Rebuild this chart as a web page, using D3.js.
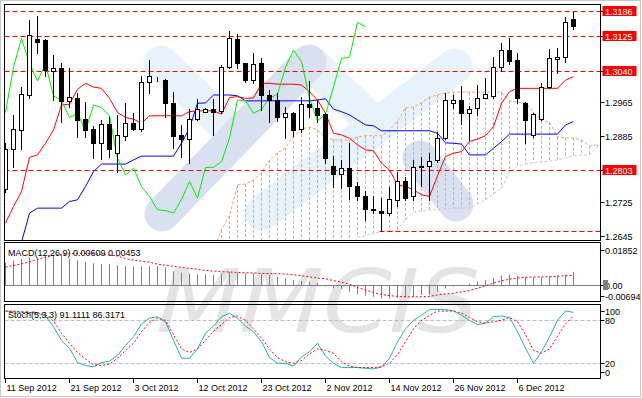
<!DOCTYPE html>
<meta charset="utf-8">
<script src="https://d3js.org/d3.v7.min.js"></script>
<style>
  body { margin: 0; background: #fff; }
  svg { display: block; font-family: "Liberation Sans", Arial, sans-serif; font-size: 9px; }
</style>
<svg id="chart" width="642" height="398"></svg>
<script>

// daily candles, 72 bars
const open = [1.2756,1.2854,1.2898,1.2984,1.3118,1.3114,1.3040,1.3047,1.2968,1.2976,
  1.2924,1.2900,1.2868,1.2914,1.2844,1.2884,1.2916,1.2902,1.3015,1.3021,
  1.3020,1.2964,1.2886,1.2876,1.2926,1.2943,1.2950,1.2944,1.3051,1.3118,
  1.3060,1.3018,1.3059,1.2984,1.2970,1.2930,1.2940,1.2900,1.2960,1.2952,
  1.2936,1.2813,1.2792,1.2808,1.2765,1.2741,1.2709,1.2705,1.2700,1.2730,
  1.2776,1.2741,1.2813,1.2812,1.2826,1.2880,1.2964,1.2970,1.2940,1.2952,
  1.2976,1.2980,1.3051,1.3092,1.3066,1.2964,1.2886,1.2926,1.3003,1.3070,
  1.3075,1.3166];
const high = [1.2869,1.2936,1.3003,1.3164,1.3174,1.3118,1.3080,1.3062,1.3048,1.2988,
  1.2968,1.2910,1.2924,1.2930,1.2936,1.2964,1.2940,1.3030,1.3068,1.3027,
  1.3022,1.2991,1.2912,1.2950,1.2974,1.2952,1.2974,1.3056,1.3138,1.3130,
  1.3062,1.3084,1.3072,1.2996,1.2988,1.2956,1.2942,1.2980,1.3018,1.2972,
  1.2940,1.2837,1.2828,1.2868,1.2776,1.2752,1.2740,1.2736,1.2764,1.2800,
  1.2788,1.2828,1.2836,1.2844,1.2896,1.2988,1.2984,1.3006,1.2958,1.3008,
  1.3024,1.3075,1.3108,1.3122,1.3084,1.2968,1.2940,1.3012,1.3094,1.3096,
  1.3171,1.3184];
const low = [1.2751,1.2812,1.2854,1.2976,1.3084,1.3030,1.2972,1.2920,1.2956,1.2884,
  1.2882,1.2832,1.2830,1.2836,1.2800,1.2876,1.2900,1.2898,1.2990,1.3018,
  1.2930,1.2856,1.2834,1.2821,1.2924,1.2942,1.2888,1.2940,1.3048,1.3048,
  1.3016,1.3012,1.2948,1.2918,1.2922,1.2880,1.2886,1.2896,1.2930,1.2920,
  1.2820,1.2764,1.2760,1.2733,1.2732,1.2684,1.2700,1.2658,1.2696,1.2716,
  1.2732,1.2732,1.2765,1.2732,1.2824,1.2878,1.2952,1.2914,1.2876,1.2936,
  1.2976,1.2978,1.3042,1.3059,1.2964,1.2869,1.2882,1.2924,1.3000,1.3038,
  1.3064,1.3142];
const close = [1.2852,1.2902,1.2986,1.3126,1.3110,1.3042,1.3048,1.2968,1.2978,1.2922,
  1.2898,1.2868,1.2912,1.2854,1.2886,1.2916,1.2902,1.3015,1.3028,1.3022,
  1.2964,1.2884,1.2878,1.2926,1.2950,1.2950,1.2942,1.3051,1.3120,1.3060,
  1.3018,1.3058,1.2982,1.2970,1.2930,1.2940,1.2898,1.2960,1.2954,1.2934,
  1.2832,1.2792,1.2808,1.2764,1.2740,1.2708,1.2706,1.2700,1.2733,1.2776,
  1.2736,1.2810,1.2810,1.2824,1.2880,1.2972,1.2970,1.2940,1.2950,1.2976,
  1.2986,1.3051,1.3092,1.3064,1.2976,1.2922,1.2938,1.3003,1.3072,1.3075,
  1.3159,1.3148];

// Ichimoku lines
const tenkan = [1.2676,1.2716,1.2752,1.2834,1.2840,1.2868,1.2900,1.2960,1.2962,1.2998,
  1.3012,1.3003,1.3000,1.2976,1.2942,1.2930,1.2926,1.2916,1.2934,1.2934,
  1.2934,1.2934,1.2934,1.2944,1.2946,1.2946,1.2946,1.2938,1.2978,1.2980,
  1.2976,1.2977,1.3012,1.3012,1.3010,1.3010,1.3010,1.3008,1.2992,1.2972,
  1.2940,1.2892,1.2888,1.2880,1.2864,1.2852,1.2850,1.2820,1.2804,1.2768,
  1.2764,1.2756,1.2744,1.2740,1.2790,1.2836,1.2844,1.2848,1.2872,1.2878,
  1.2886,1.2908,1.2964,1.2992,1.3000,1.3000,1.3000,1.3000,1.3000,1.3000,
  1.3020,1.3028];
const kijun = [1.2600,1.2610,1.2630,1.2700,1.2712,1.2712,1.2712,1.2712,1.2728,1.2732,
  1.2764,1.2800,1.2818,1.2818,1.2818,1.2818,1.2828,1.2837,1.2837,1.2837,
  1.2837,1.2837,1.2868,1.2904,1.2964,1.2965,1.2984,1.2984,1.2984,1.2982,
  1.2970,1.2970,1.2970,1.2970,1.2970,1.2970,1.2970,1.2970,1.2970,1.2972,
  1.2975,1.2950,1.2944,1.2936,1.2924,1.2912,1.2910,1.2898,1.2898,1.2898,
  1.2898,1.2898,1.2898,1.2898,1.2892,1.2869,1.2868,1.2866,1.2840,1.2840,
  1.2840,1.2856,1.2872,1.2890,1.2890,1.2890,1.2890,1.2890,1.2890,1.2890,
  1.2912,1.2920];
// cloud spans, from bar 26 to bar 74
const spanStart = 26;
const spanA = [1.2611,1.2660,1.2693,1.2768,1.2770,1.2780,1.2797,1.2828,1.2845,1.2857,
  1.2886,1.2902,1.2907,1.2900,1.2883,1.2876,1.2876,1.2876,1.2883,1.2886,
  1.2886,1.2886,1.2900,1.2921,1.2953,1.2955,1.2965,1.2979,1.2984,1.2989,
  1.2991,1.2991,1.2991,1.2991,1.2991,1.2991,1.2991,1.2970,1.2967,1.2965,
  1.2943,1.2922,1.2919,1.2883,1.2881,1.2881,1.2876,1.2861,1.2864];
const spanB = [1.2600,1.2600,1.2600,1.2600,1.2600,1.2600,1.2600,1.2600,1.2600,1.2600,
  1.2600,1.2600,1.2600,1.2600,1.2600,1.2600,1.2600,1.2600,1.2643,1.2645,
  1.2652,1.2655,1.2657,1.2660,1.2684,1.2703,1.2705,1.2708,1.2708,1.2710,
  1.2712,1.2712,1.2712,1.2722,1.2732,1.2746,1.2760,1.2799,1.2813,1.2818,
  1.2821,1.2823,1.2825,1.2828,1.2833,1.2837,1.2840,1.2840,1.2859];
const chikouShift = 26;

// MACD(12,26,9)
const macd = [0.0100,0.0110,0.0117,0.0121,0.0121,0.0129,0.0133,0.0124,0.0118,0.0110,
  0.0104,0.0098,0.0095,0.0095,0.0089,0.0085,0.0083,0.0083,0.0085,0.0086,
  0.0080,0.0063,0.0057,0.0053,0.0050,0.0050,0.0047,0.0055,0.0061,0.0058,
  0.0055,0.0055,0.0051,0.0046,0.0039,0.0032,0.0026,0.0021,0.0018,0.0014,
  -0.0002,-0.0010,-0.0013,-0.0025,-0.0037,-0.0042,-0.0047,-0.0054,-0.0054,-0.0051,
  -0.0051,-0.0050,-0.0039,-0.0037,-0.0025,-0.0010,-0.0003,0.0004,0.0009,0.0019,
  0.0026,0.0034,0.0045,0.0048,0.0045,0.0038,0.0037,0.0037,0.0041,0.0045,
  0.0048,0.00609];
const macdSignal = [0.0082,0.0088,0.0095,0.0104,0.0114,0.0124,0.0132,0.0136,0.0139,0.0140,
  0.0140,0.0139,0.0136,0.0133,0.0129,0.0118,0.0111,0.0107,0.0102,0.0094,
  0.0089,0.0085,0.0080,0.0076,0.0072,0.0067,0.0064,0.0061,0.0060,0.0058,
  0.0057,0.0056,0.0054,0.0053,0.0053,0.0051,0.0048,0.0044,0.0039,0.0034,
  0.0031,0.0023,0.0016,0.0007,-0.0007,-0.0018,-0.0028,-0.0037,-0.0042,-0.0045,
  -0.0047,-0.0047,-0.0047,-0.0045,-0.0039,-0.0035,-0.0032,-0.0026,-0.0020,-0.0010,
  0.0001,0.0012,0.0022,0.0029,0.0034,0.0037,0.0038,0.0039,0.0040,0.0042,
  0.0044,0.00453];

// Stochastic(5,3,3)
const stochMain = [93,92,91,91,90,86,71,52,41,21,17,15,21,23,31,45,57,75,83,85,
  78,52,27,27,40,62,72,85,90,83,72,64,50,28,20,20,16,29,36,48,
  30,20,14,14,14,13,12,15,27,50,68,80,87,95,95,95,93,87,80,74,
  76,85,86,84,64,41,20,36,57,80,93,91.1111];
const stochSignal = [93,93,92,91,90,88,79,62,48,35,26,18,17,19,27,38,48,64,77,83,
  80,60,40,35,40,52,65,74,84,86,80,68,55,40,28,22,20,24,33,40,
  38,34,22,16,14,14,14,15,20,32,50,68,80,87,93,93,93,90,84,78,
  76,78,80,84,78,60,38,34,40,58,75,86.3171];

const tickBars = [0, 8, 16, 24, 32, 40, 48, 56, 64];
const tickLabels = ["11 Sep 2012","21 Sep 2012","3 Oct 2012","12 Oct 2012","23 Oct 2012",
  "2 Nov 2012","14 Nov 2012","26 Nov 2012","6 Dec 2012"];
const priceTicks = [1.3186, 1.3125, 1.3040, 1.2965, 1.2885, 1.2803, 1.2725, 1.2645];
const levelLines = [1.3186, 1.3125, 1.3040, 1.2803];
const supportLevel = 1.2655, supportFrom = 47;
const macdTicks = [0.01852, 0.00, -0.00694];
const macdTickText = ["0.01852", "0.00", "-0.00694"];
const stochTicks = [100, 80, 20, 0];
const stochLevels = [80, 20];

const svg = d3.select("#chart");
const L = 4.5, R = 600.5;
const panels = {
  main: {top: 4.5, bottom: 240.5},
  macd: {top: 242.5, bottom: 301.5},
  stoch: {top: 304.5, bottom: 378.5}
};

const x = d3.scaleLinear().domain([0, 1]).range([5.5, 13.5]);
const y = d3.scaleLinear().domain([1.2645, 1.3186]).range([236, 11]);
const yM = d3.scaleLinear().domain([-0.00694, 0.01852]).range([302, 243]);
const yS = d3.scaleLinear().domain([0, 100]).range([377.6, 306]);
const snap = v => Math.round(v - 0.5) + 0.5;

svg.append("rect").attr("width", 642).attr("height", 398).attr("fill", "#fff");

// clip paths
const defs = svg.append("defs");
Object.entries(panels).forEach(([k, p]) => {
  defs.append("clipPath").attr("id", "clip-" + k)
    .append("rect").attr("x", L).attr("y", p.top).attr("width", R - L).attr("height", p.bottom - p.top);
});

// MMCIS watermark behind the sub windows
svg.append("text")
  .attr("x", 150).attr("y", 332)
  .attr("textLength", 322).attr("lengthAdjust", "spacingAndGlyphs")
  .attr("transform", "skewX(-14) translate(82,0)")
  .style("font-family", "DejaVu Sans, sans-serif")
  .style("font-size", "88px")
  .attr("fill", "#e4e4e4")
  .text("MMCIS");

// ---- main window ----
const gMain = svg.append("g").attr("clip-path", "url(#clip-main)");

// logo bands
const bands = [
  {a: [161, 63], b: [228, 128], c: "#e7f2fb"},
  {a: [312, 64], b: [362, 112], c: "#e7f2fb"},
  {a: [262, 213], b: [455, 66], c: "#e7f2fb"},
  {a: [162, 214], b: [309, 62], c: "#d9e0f0"},
  {a: [420, 158], b: [456, 204], c: "#d9e0f0"}
];
gMain.selectAll("line.band").data(bands).join("line")
  .attr("class", "band")
  .attr("x1", d => d.a[0]).attr("y1", d => d.a[1])
  .attr("x2", d => d.b[0]).attr("y2", d => d.b[1])
  .attr("stroke", d => d.c).attr("stroke-width", 35).attr("stroke-linecap", "round");

// cloud hatch
const spanIdx = d3.range(spanA.length);
gMain.selectAll("line.hatch").data(spanIdx.slice(1)).join("line")
  .attr("class", "hatch")
  .attr("x1", i => x(i + spanStart)).attr("x2", i => x(i + spanStart))
  .attr("y1", i => y(spanA[i])).attr("y2", i => y(spanB[i]))
  .attr("stroke", "#f4a460").attr("stroke-dasharray", "3,2");

const line = (arr, off, ys) => d3.line().x((d, i) => x(i + off)).y(d => ys(d))(arr);

gMain.append("path").attr("d", line(spanA, spanStart, y))
  .attr("fill", "none").attr("stroke", "#f4a460").attr("stroke-dasharray", "3,2");
gMain.append("path").attr("d", line(spanB, spanStart, y))
  .attr("fill", "none").attr("stroke", "#d8bfd8").attr("stroke-dasharray", "3,2");

// horizontal levels
gMain.selectAll("line.level").data(levelLines).join("line")
  .attr("class", "level")
  .attr("x1", L).attr("x2", R)
  .attr("y1", d => snap(y(d))).attr("y2", d => snap(y(d)))
  .attr("stroke", "#ff0000").attr("stroke-dasharray", "5,3");
gMain.append("line")
  .attr("x1", x(supportFrom) - 2).attr("x2", R)
  .attr("y1", snap(y(supportLevel))).attr("y2", snap(y(supportLevel)))
  .attr("stroke", "#ff0000").attr("stroke-dasharray", "5,3");

gMain.append("path").attr("d", line(kijun, 0, y))
  .attr("fill", "none").attr("stroke", "#0000ff");
gMain.append("path").attr("d", line(tenkan, 0, y))
  .attr("fill", "none").attr("stroke", "#ff0000");
gMain.append("path").attr("d", line(close.slice(chikouShift), 0, y))
  .attr("fill", "none").attr("stroke", "#00ee00");

// candles
const bars = d3.range(open.length);
const cg = gMain.selectAll("g.candle").data(bars).join("g").attr("class", "candle");
cg.append("line")
  .attr("x1", i => x(i)).attr("x2", i => x(i))
  .attr("y1", i => Math.round(y(high[i]))).attr("y2", i => Math.round(y(low[i])) + 1)
  .attr("stroke", "#000");
cg.append("rect")
  .attr("x", i => x(i) - 2).attr("width", 4)
  .attr("y", i => snap(y(Math.max(open[i], close[i]))))
  .attr("height", i => Math.max(0, snap(y(Math.min(open[i], close[i]))) - snap(y(Math.max(open[i], close[i])))))
  .attr("fill", i => close[i] >= open[i] ? "#fff" : "#000")
  .attr("stroke", "#000");

// ---- MACD window ----
const gMacd = svg.append("g").attr("clip-path", "url(#clip-macd)");
gMacd.append("line").attr("x1", L).attr("x2", R)
  .attr("y1", snap(yM(0))).attr("y2", snap(yM(0))).attr("stroke", "#778090");
gMacd.selectAll("line.hist").data(bars).join("line")
  .attr("class", "hist")
  .attr("x1", i => x(i)).attr("x2", i => x(i))
  .attr("y1", snap(yM(0))).attr("y2", i => yM(macd[i]))
  .attr("stroke", "#778090");
gMacd.append("path").attr("d", line(macdSignal, 0, yM))
  .attr("fill", "none").attr("stroke", "#ff0000").attr("stroke-dasharray", "2,2");

// ---- Stochastic window ----
const gSto = svg.append("g").attr("clip-path", "url(#clip-stoch)");
gSto.selectAll("line.lvl").data(stochLevels).join("line")
  .attr("class", "lvl")
  .attr("x1", L).attr("x2", R)
  .attr("y1", d => snap(yS(d))).attr("y2", d => snap(yS(d)))
  .attr("stroke", "#c0c0c0").attr("stroke-dasharray", "4,2");
gSto.append("path").attr("d", line(stochMain, 0, yS))
  .attr("fill", "none").attr("stroke", "#20b2aa");
gSto.append("path").attr("d", line(stochSignal, 0, yS))
  .attr("fill", "none").attr("stroke", "#ff0000").attr("stroke-dasharray", "2,2");

// panel frames
Object.values(panels).forEach(p => {
  svg.append("rect").attr("x", L).attr("y", p.top)
    .attr("width", R - L).attr("height", p.bottom - p.top)
    .attr("fill", "none").attr("stroke", "#000");
});
svg.append("rect").attr("x", 0.5).attr("y", 0.5).attr("width", 640).attr("height", 396)
  .attr("fill", "none").attr("stroke", "#c8c8c8");

// ---- right scales ----
const priceAxis = svg.append("g");
priceTicks.forEach(p => {
  const yy = snap(y(p));
  const marked = levelLines.includes(p);
  priceAxis.append("line").attr("x1", R).attr("x2", R + 4).attr("y1", yy).attr("y2", yy).attr("stroke", "#000");
  if (marked) {
    priceAxis.append("rect").attr("x", 602.5).attr("y", yy - 5.5).attr("width", 34).attr("height", 10).attr("fill", "#ff0000");
  }
  priceAxis.append("text").attr("x", 605).attr("y", yy + 3.5)
    .attr("fill", marked ? "#fff" : "#000").text(p.toFixed(4));
});

macdTicks.forEach((v, k) => {
  const yy = Math.min(Math.max(yM(v), 250), 296);
  svg.append("line").attr("x1", R).attr("x2", R + 4).attr("y1", snap(yy)).attr("y2", snap(yy)).attr("stroke", "#000");
  svg.append("text").attr("x", 605).attr("y", yy + 3.5).text(macdTickText[k]);
});
svg.append("rect").attr("x", 603).attr("y", 280).attr("width", 5).attr("height", 10).attr("fill", "#778090");

stochTicks.forEach(v => {
  const yy = Math.min(Math.max(yS(v), 311), 372);
  svg.append("line").attr("x1", R).attr("x2", R + 4).attr("y1", snap(yy)).attr("y2", snap(yy)).attr("stroke", "#000");
  svg.append("text").attr("x", 605).attr("y", yy + 3.5).text(v);
});

// panel captions
svg.append("text").attr("x", 8).attr("y", 256).text("MACD(12,26,9) 0.00609 0.00453");
svg.append("text").attr("x", 8).attr("y", 318).text("Stoch(5,3,3) 91.1111 86.3171");

// ---- time axis ----
tickBars.forEach((b, k) => {
  svg.append("line").attr("x1", x(b)).attr("x2", x(b)).attr("y1", 378).attr("y2", 383).attr("stroke", "#000");
  svg.append("text").attr("x", x(b) + 1).attr("y", 391).text(tickLabels[k]);
});

</script>
